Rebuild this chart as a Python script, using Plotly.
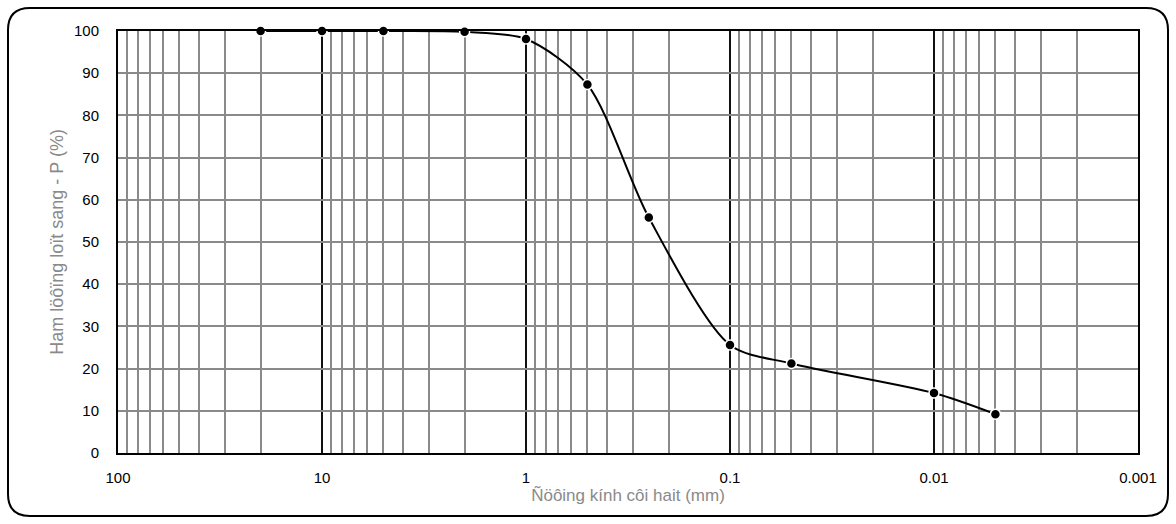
import plotly.graph_objects as go

# Grain size distribution (sieve + hydrometer)
diameter_mm = [20, 10, 5, 2, 1, 0.5, 0.25, 0.1, 0.05, 0.01, 0.005]
passing_pct = [100, 100, 100, 99.8, 98.1, 87.3, 55.8, 25.6, 21.2, 14.2, 9.2]

x_tick_vals = [100, 10, 1, 0.1, 0.01, 0.001]
x_tick_text = ["100", "10", "1", "0.1", "0.01", "0.001"]
y_tick_vals = [0, 10, 20, 30, 40, 50, 60, 70, 80, 90, 100]

x_title = "Ñöôing kính côi hait (mm)"
y_title = "Ham löôïng loït sang - P (%)"

W, H = 1176, 524
L, R, T, B = 118, 1138, 31, 453

fig = go.Figure()
fig.add_trace(go.Scatter(
    x=diameter_mm, y=passing_pct,
    mode="lines+markers",
    line=dict(color="black", width=2, shape="spline", smoothing=0.8),
    marker=dict(color="black", size=10, line=dict(color="white", width=1.5)),
    showlegend=False, cliponaxis=False,
))

font = "Liberation Sans, Arial, sans-serif"

fig.update_xaxes(
    type="log", range=[2, -3],
    tickvals=x_tick_vals, ticktext=x_tick_text,
    showgrid=True, gridcolor="#111111", gridwidth=2,
    minor=dict(dtick="D1", showgrid=True, gridcolor="#8a8a8a", gridwidth=2, ticks=""),
    showline=True, mirror=True, linecolor="black", linewidth=2,
    ticks="", zeroline=False, ticklabelstandoff=10,
    tickfont=dict(family=font, size=15, color="black"),
    title=dict(text=x_title, font=dict(family=font, size=17, color="#8a8a8a"), standoff=0),
)
fig.update_yaxes(
    range=[0, 100], tickvals=y_tick_vals,
    showgrid=True, gridcolor="#8a8a8a", gridwidth=2,
    showline=True, mirror=True, linecolor="black", linewidth=2,
    ticks="", zeroline=False, ticklabelstandoff=14,
    tickfont=dict(family=font, size=15, color="black"),
    title=dict(text=y_title, font=dict(family=font, size=18, color="#8a8a8a"), standoff=6),
)

# Rounded outer frame, in paper coordinates of the plot area
def px(x):
    return (x - L) / (R - L)

def py(y):
    return (B - y) / (B - T)

x0, x1, y0, y1, r = 8, 1168, 8, 516, 22
path = (
    f"M {px(x0 + r)} {py(y0)} L {px(x1 - r)} {py(y0)} "
    f"Q {px(x1)} {py(y0)} {px(x1)} {py(y0 + r)} "
    f"L {px(x1)} {py(y1 - r)} "
    f"Q {px(x1)} {py(y1)} {px(x1 - r)} {py(y1)} "
    f"L {px(x0 + r)} {py(y1)} "
    f"Q {px(x0)} {py(y1)} {px(x0)} {py(y1 - r)} "
    f"L {px(x0)} {py(y0 + r)} "
    f"Q {px(x0)} {py(y0)} {px(x0 + r)} {py(y0)} Z"
)
fig.add_shape(type="path", path=path, xref="paper", yref="paper",
              line=dict(color="black", width=2), layer="below")

fig.update_layout(
    width=W, height=H,
    margin=dict(l=L, r=W - R, t=T, b=H - B),
    paper_bgcolor="white", plot_bgcolor="white",
    font=dict(family=font),
)

fig.write_html("out.html")
